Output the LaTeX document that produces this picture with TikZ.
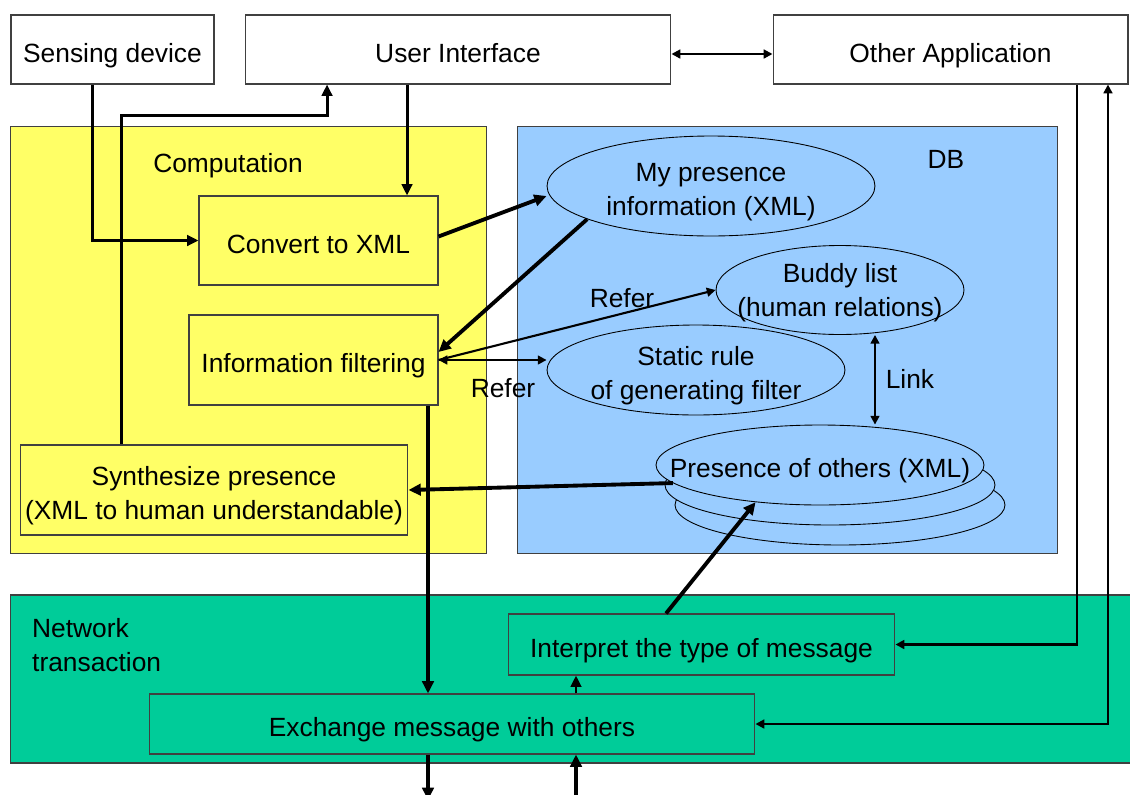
\documentclass[tikz,border=0pt]{standalone}
\usepackage{fontspec}
\setmainfont{Liberation Sans}
\usepackage{tikz}
\usetikzlibrary{arrows,arrows.meta,shapes.geometric}
\definecolor{compyellow}{HTML}{FFFF66}
\definecolor{dbblue}{HTML}{99CCFF}
\definecolor{netgreen}{HTML}{00CC99}
\definecolor{edgegray}{HTML}{404040}

\begin{document}
\begin{tikzpicture}[x=0.02cm,y=-0.02cm,>={Triangle[length=5pt,width=5pt]}]
  \tikzstyle{every node}=[font=\fontsize{15}{19.5}\selectfont]
  \tikzstyle{lowered}=[text height=17.7pt,text depth=3.2pt]
  \tikzstyle{twolines}=[align=center,yshift=-0.12cm]
  \tikzstyle{box}=[draw=edgegray,line width=0.6pt,shape=rectangle,align=center,inner sep=0pt,lowered]
  \tikzstyle{area}=[draw=edgegray,line width=0.6pt,shape=rectangle,inner sep=0pt]
  \tikzstyle{store}=[draw=black,line width=0.5pt,fill=dbblue,shape=ellipse,inner sep=0pt]
  \tikzstyle{heavy}=[->,>={Triangle[length=7pt,width=6.5pt]},line width=2.2pt]
  \tikzstyle{flow}=[->,>={Triangle[length=6.5pt,width=6pt]},line width=1.7pt]
  \tikzstyle{link}=[line width=1.2pt]
  \useasboundingbox (0,0) rectangle (1130,795);
  % areas
  \path (248.5,340) node[area,fill=compyellow,minimum width=9.54cm,minimum height=8.56cm] (comp) {};
  \path (787.5,340) node[area,fill=dbblue,minimum width=10.82cm,minimum height=8.56cm] (db) {};
  \path (571,679) node[area,fill=netgreen,minimum width=22.44cm,minimum height=3.36cm] (net) {};
  \path (228,166) node (complbl) {Computation};
  \path (946,159) node (dblbl) {DB};
  \path (26,645) node[anchor=west,align=left] (netlbl) {Network\\transaction};
  % top row
  \path (112.5,49.5) node[box,fill=white,minimum width=4.06cm,minimum height=1.38cm] (sense) {Sensing device};
  \path (458,49.5) node[box,fill=white,minimum width=8.52cm,minimum height=1.38cm] (ui) {User Interface};
  \path (950.5,49.5) node[box,fill=white,minimum width=7.1cm,minimum height=1.38cm] (other) {Other Application};
  % computation
  \path (318.5,240.5) node[box,fill=compyellow,minimum width=4.78cm,minimum height=1.78cm] (xml) {Convert to XML};
  \path (313.5,360) node[box,fill=compyellow,minimum width=4.98cm,minimum height=1.8cm] (filter) {Information filtering};
  \path (214,490) node[box,fill=compyellow,minimum width=7.76cm,minimum height=1.8cm,
    label={[twolines]center:{Synthesize presence\\(XML to human understandable)}}] (synth) {};
  % database
  \path (711,186) node[store,minimum width=6.56cm,minimum height=2cm,
    label={[twolines]center:{My presence\\information (XML)}}] (mypres) {};
  \path (840,290) node[store,minimum width=4.96cm,minimum height=1.78cm,
    label={[align=center,yshift=-0.05cm]center:{Buddy list\\(human relations)}}] (buddy) {};
  \path (696,370) node[store,minimum width=5.96cm,minimum height=1.8cm,
    label={[twolines]center:{Static rule\\of generating filter}}] (rule) {};
  \path (840,505) node[store,minimum width=6.6cm,minimum height=1.6cm] (others3) {};
  \path (830,485) node[store,minimum width=6.6cm,minimum height=1.6cm] (others2) {};
  \path (820,465) node[store,minimum width=6.56cm,minimum height=1.6cm,
    label={[lowered]center:Presence of others (XML)}] (others) {};
  % network
  \path (701.5,644.5) node[box,fill=netgreen,minimum width=7.74cm,minimum height=1.22cm] (interp) {Interpret the type of message};
  \path (452,724) node[box,fill=netgreen,minimum width=12.12cm,minimum height=1.2cm] (exch) {Exchange message with others};
  \coordinate (netout) at (428,800);
  \coordinate (netin) at (576,800);
  \path (622,298) node (refer1) {Refer};
  \path (503,388) node (refer2) {Refer};
  \path (910,379) node (linklbl) {Link};
  % connectors
  \draw[link,<->] ([yshift=-0.09cm]ui.east) -- ([yshift=-0.09cm]other.west);
  \draw[flow] (sense.south west) ++(82,0) |- (xml.west);
  \draw[flow] (synth.north west) ++(102,0) -- ++(0,-329) -| ([xshift=-2.62cm]ui.south);
  \draw[flow] ([xshift=-1.02cm]ui.south) -- ([xshift=-1.02cm]ui.south |- xml.north);
  \draw[heavy] ([yshift=0.08cm]xml.east) -- ([yshift=-0.2cm]mypres.west);
  \draw[heavy] (mypres.195) -- ([yshift=0.16cm]filter.east);
  \draw[link,->] (filter.east) -- (buddy.west);
  \draw[link,<->] (filter.east) -- (filter.east -| rule.west);
  \draw[link,<->] ([xshift=0.7cm]buddy.south) -- ([xshift=0.7cm]buddy.south |- others.north);
  \draw[heavy] (others.187) -- (synth.east);
  \draw[heavy] ([xshift=-0.71cm]interp.north) -- (others.210);
  \draw[heavy] (netout |- filter.south) -- (netout |- exch.north);
  \draw[flow] (netin |- exch.north) -- (netin |- interp.south);
  \draw[heavy] (netout |- exch.south) -- (netout);
  \draw[heavy] (netin) -- (netin |- exch.south);
  \draw[link,->] ([xshift=2.53cm]other.south) |- (interp.east);
  \draw[link,<->] (exch.east) -| ([xshift=3.15cm]other.south);
\end{tikzpicture}
\end{document}
